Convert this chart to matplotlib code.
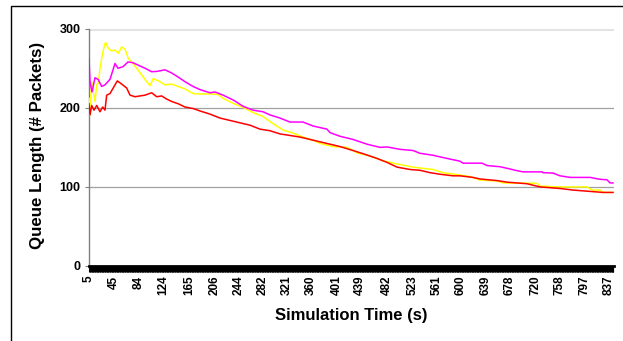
import matplotlib
matplotlib.use("Agg")
import matplotlib.pyplot as plt
from matplotlib.patches import Rectangle
import numpy as np

plt.rcParams['font.family'] = ['Liberation Sans', 'DejaVu Sans']

# x tick labels (simulation time, s)
tick_times = [5, 45, 84, 124, 165, 206, 244, 282, 321, 360, 401, 439, 482,
              523, 561, 600, 639, 678, 720, 758, 797, 837]

# red series
red_t = [5, 6.6, 9.3, 13, 17.3, 22.6, 26.9, 30.6, 33.3, 38.6, 46.6, 50.3, 57.3,
         65.3, 70.6, 78.6, 86.6, 94.6, 105.3, 113.3, 121.3, 129.3, 137.3, 148,
         158.6, 172, 182.6, 198.6, 214.6, 230.6, 246.6, 262.6, 278.6, 294.6,
         310.6, 326.6, 342.6, 358.6, 374.6, 390.6, 406.6, 427.4, 443.4, 465.8,
         481.8, 497.8, 518.6, 534.6, 550.6, 566.6, 587.4, 598.6, 619.4, 630.6,
         657.8, 673.8, 705.8, 726.6, 758.6, 779.4, 811.4, 827.4, 843.4]
red_v = [205, 191, 203, 197, 203, 195, 201, 197, 216, 218, 229, 234, 230,
         225, 216, 214, 215, 216, 219, 214, 215, 211, 208, 205,
         201, 199, 196, 192, 187, 184, 181, 178, 173, 171,
         167, 165, 163, 160, 157, 154, 151, 146, 142, 136,
         131, 125, 122, 121, 118, 116, 114, 114, 112, 110,
         108, 106, 104, 100, 98, 96, 94, 93, 93]

# magenta series
mag_t = [5, 6.6, 9.8, 14.6, 19.4, 25.3, 30.6, 38.6, 46.6, 51.4, 59.4, 67.4,
         75.4, 83.4, 94.6, 105.3, 113.3, 126.6, 137.3, 147.4, 158.6, 171.4,
         182.6, 198.6, 206.6, 219.4, 235.4, 251.4, 267.4, 283.4, 294.6, 310.6,
         326.6, 347.4, 363.4, 385.8, 390.6, 406.6, 427.4, 449.8, 470.6, 481.8,
         502.6, 523.4, 534.6, 555.4, 577.8, 598.6, 603.4, 633.8, 641.8, 662.6,
         673.8, 689.8, 699.4, 729.8, 731.4, 747.4, 758.6, 774.6, 806.6, 822.6,
         833.8, 838.6, 843.4]
mag_v = [262, 233, 220, 238, 236, 227, 229, 236, 256, 250, 252, 258,
         257, 254, 250, 245.6, 246, 248, 244, 239, 233, 227,
         223, 219, 220, 216, 210, 202, 197, 195, 191, 187,
         182, 182, 177, 173, 168.6, 164, 160, 154, 150, 150.5,
         147.5, 146, 142.5, 140, 136, 132.5, 130, 130, 127, 125.5,
         123.5, 120.5, 119, 119, 118, 117.5, 114, 112, 112, 109.6,
         109, 105, 105]

# yellow series
yel_t = [5, 6.1, 9.3, 11.9, 14.6, 17.3, 19.9, 22.6, 26.3, 30.6, 32.2, 35.9,
         41.3, 46.6, 51.9, 57.3, 62.6, 67.9, 73.3, 81.3, 89.3, 97.3, 102.6,
         107.9, 118.6, 126.6, 137.3, 147.4, 158.6, 171.4, 182.6, 198.6, 211.4,
         219.4, 235.4, 251.4, 267.4, 283.4, 299.4, 315.4, 331.4, 347.4, 363.4,
         374.6, 395.4, 417.8, 433.8, 454.6, 475.4, 497.8, 523.4, 555.4, 571.4,
         598.6, 614.6, 630.6, 657.8, 667.4, 721.8, 726.6, 753.8, 801.8, 809.8,
         822.6, 827.4, 843.4]
yel_v = [212, 191, 233, 220, 208, 229, 231, 250, 267, 281.5, 282, 275,
         272, 273, 269, 277, 274, 262.6, 258, 250, 241.5, 233, 228,
         237, 233, 229, 230, 227, 224, 218, 217.5, 217.5, 217,
         212, 205.6, 200.6, 194, 189, 180, 172, 168, 163, 159,
         155, 151, 150, 143, 139, 133, 129, 125, 122, 118,
         115, 113, 108.7, 107.5, 105, 104.5, 101, 100, 100, 96,
         96, 93, 93]

W, H = 623, 341
fig = plt.figure(figsize=(W / 100, H / 100), dpi=100)
ax = fig.add_axes([89 / W, 1 - 266 / H, (614 - 89) / W, (266 - 28.7) / H])

# outer chart frame
fig.patches.append(Rectangle((11 / W, -0.1), 1.2, 1.1 - 6 / H, transform=fig.transFigure,
                             fill=False, edgecolor='black', linewidth=1.0))

ax.axhline(300, color='#e3e3e3', linewidth=2.2, zorder=1)
for g in (100, 200):
    ax.axhline(g, color='#a0a0a0', linewidth=0.9, zorder=1)

ax.plot(yel_t, yel_v, color='#ffff00', linewidth=1.1, zorder=3)
ax.plot(mag_t, mag_v, color='#ff00ff', linewidth=1.1, zorder=3)
ax.plot(red_t, red_v, color='#ff0000', linewidth=1.1, zorder=4)

ax.set_xlim(5, 845)
ax.set_ylim(0, 300)
ax.set_yticks([0, 100, 200, 300])
ax.set_xticks(tick_times)
ax.set_xticklabels([str(t) for t in tick_times], rotation=90, fontsize=8.5,
                   fontweight='bold')
ax.set_xticks(np.arange(5, 845, 1.0), minor=True)
ax.tick_params(axis='x', which='both', direction='out', length=4, width=0.8,
               color='black', pad=3)
ax.tick_params(axis='y', which='major', direction='out', length=3, width=0.8,
               color='#808080', labelsize=9, pad=3)
for lab in ax.get_yticklabels():
    lab.set_fontweight('bold')

for s in ('top', 'right'):
    ax.spines[s].set_visible(False)
ax.spines['left'].set_color('#808080')
ax.spines['left'].set_linewidth(1.0)
ax.spines['bottom'].set_color('black')
ax.spines['bottom'].set_linewidth(2.0)

ax.set_xlabel('Simulation Time (s)', fontsize=12, fontweight='bold')
ax.set_ylabel('Queue Length (# Packets)', fontsize=12.2, fontweight='bold')
ax.xaxis.set_label_coords(0.5, -0.175)
ax.yaxis.set_label_coords(-0.083, 0.51)

fig.savefig('out.png', dpi=100)
